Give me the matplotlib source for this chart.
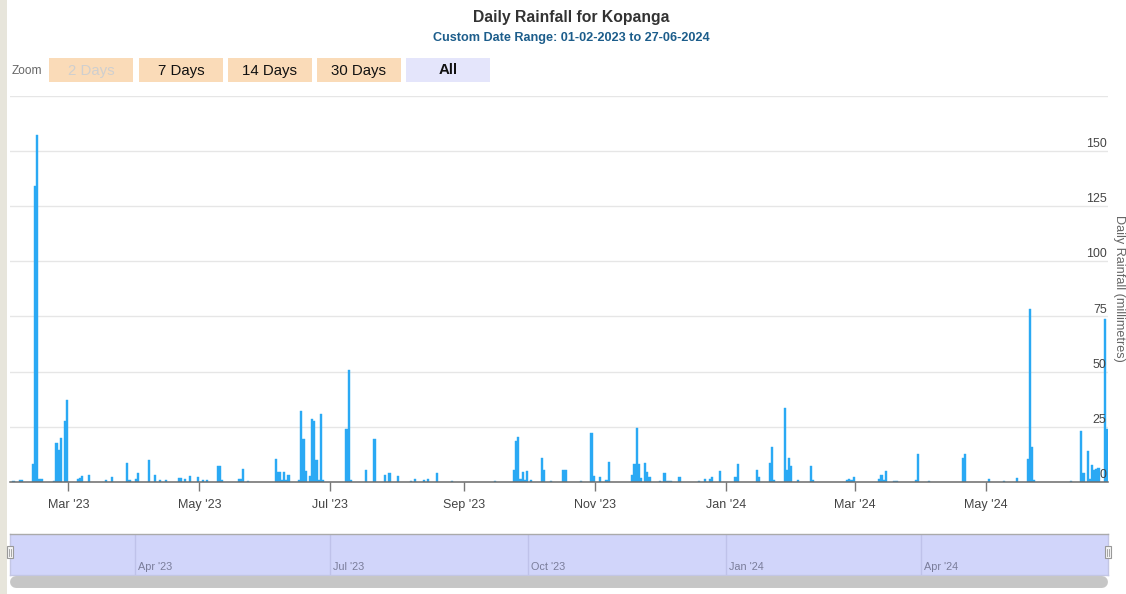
import matplotlib
matplotlib.use("Agg")
import matplotlib.pyplot as plt
import matplotlib.dates as mdates
from matplotlib.patches import Rectangle
from matplotlib.lines import Line2D
import pandas as pd

plt.rcParams['font.family'] = ['Liberation Sans', 'DejaVu Sans']

# daily rainfall (mm), only days with rain
rain_dates = [
    "2023-02-03", "2023-02-06", "2023-02-07", "2023-02-12", "2023-02-13", "2023-02-14",
    "2023-02-15", "2023-02-16", "2023-02-22", "2023-02-23", "2023-02-24", "2023-02-25",
    "2023-02-27", "2023-02-28", "2023-03-05", "2023-03-06", "2023-03-07", "2023-03-10",
    "2023-03-18", "2023-03-21", "2023-03-28", "2023-03-29", "2023-04-01", "2023-04-02",
    "2023-04-07", "2023-04-10", "2023-04-12", "2023-04-15", "2023-04-21", "2023-04-22",
    "2023-04-24", "2023-04-26", "2023-04-30", "2023-05-02", "2023-05-04", "2023-05-09",
    "2023-05-10", "2023-05-11", "2023-05-19", "2023-05-20", "2023-05-21", "2023-05-23",
    "2023-06-05", "2023-06-06", "2023-06-07", "2023-06-08", "2023-06-09", "2023-06-10",
    "2023-06-11", "2023-06-16", "2023-06-17", "2023-06-18", "2023-06-19", "2023-06-21",
    "2023-06-22", "2023-06-23", "2023-06-24", "2023-06-25", "2023-06-26", "2023-06-27",
    "2023-07-08", "2023-07-09", "2023-07-10", "2023-07-17", "2023-07-21", "2023-07-26",
    "2023-07-28", "2023-08-01", "2023-08-07", "2023-08-09", "2023-08-13", "2023-08-15",
    "2023-08-19", "2023-08-26", "2023-09-15", "2023-09-24", "2023-09-25", "2023-09-26",
    "2023-09-27", "2023-09-28", "2023-09-29", "2023-09-30", "2023-10-02", "2023-10-07",
    "2023-10-08", "2023-10-11", "2023-10-17", "2023-10-18", "2023-10-25", "2023-10-30",
    "2023-10-31", "2023-11-03", "2023-11-06", "2023-11-07", "2023-11-18", "2023-11-19",
    "2023-11-20", "2023-11-21", "2023-11-22", "2023-11-24", "2023-11-25", "2023-11-26",
    "2023-12-01", "2023-12-03", "2023-12-04", "2023-12-05", "2023-12-06", "2023-12-10",
    "2023-12-19", "2023-12-22", "2023-12-24", "2023-12-25", "2023-12-29", "2024-01-05",
    "2024-01-06", "2024-01-15", "2024-01-16", "2024-01-21", "2024-01-22", "2024-01-23",
    "2024-01-28", "2024-01-29", "2024-01-30", "2024-01-31", "2024-02-03", "2024-02-09",
    "2024-02-10", "2024-02-26", "2024-02-27", "2024-02-28", "2024-02-29", "2024-03-12",
    "2024-03-13", "2024-03-14", "2024-03-15", "2024-03-19", "2024-03-20", "2024-03-29",
    "2024-03-30", "2024-04-04", "2024-04-20", "2024-04-21", "2024-05-02", "2024-05-09",
    "2024-05-15", "2024-05-20", "2024-05-21", "2024-05-22", "2024-05-23", "2024-06-09",
    "2024-06-14", "2024-06-15", "2024-06-17", "2024-06-18", "2024-06-19", "2024-06-20",
    "2024-06-21", "2024-06-22", "2024-06-25", "2024-06-26",
]
rain_mm = [
    0.5, 0.8, 0.8, 8.3, 134, 157,
    1.2, 1.5, 0.5, 17.8, 14.3, 20,
    27.4, 37.3, 1.5, 1.6, 2.7, 3.3,
    1.0, 2.4, 8.4, 1.0, 1.5, 3.9,
    9.8, 3.3, 1.0, 1.0, 1.7, 1.7,
    1.2, 2.9, 2.4, 1.0, 1.0, 7.2,
    7.2, 1.0, 1.5, 1.5, 5.7, 0.5,
    10.5, 4.6, 4.4, 0.8, 4.5, 1.0,
    3.3, 1.0, 32.2, 19.6, 4.8, 2.9,
    28.3, 27.6, 9.8, 1.0, 31, 1.0,
    24, 50.8, 1.0, 5.3, 19.6, 3.3,
    3.9, 2.9, 0.5, 1.5, 1.0, 1.5,
    3.9, 0.5, 0.5, 5.6, 18.4, 20.6,
    1.5, 4.5, 1.0, 4.8, 1.0, 10.7,
    5.3, 0.5, 5.6, 5.6, 0.5, 22.3,
    2.7, 2.4, 1.0, 9.2, 3.0, 8.3,
    24.5, 8.3, 1.7, 8.4, 4.5, 2.4,
    0.5, 3.9, 0.5, 0.4, 0.5, 2.4,
    0.5, 1.2, 1.2, 2.4, 5.1, 2.1,
    8.0, 5.6, 2.4, 8.4, 16, 1.0,
    33.4, 5.3, 11, 7.4, 1.0, 7.4,
    1.0, 1.0, 1.5, 1.0, 2.4, 1.5,
    3.3, 1.0, 4.8, 0.5, 0.5, 1.0,
    12.5, 0.5, 11, 12.5, 1.5, 0.5,
    1.7, 10.2, 78.2, 15.8, 1.0, 0.5,
    22.9, 3.9, 14, 1.5, 7.8, 5.3,
    6.0, 6.5, 74, 23.8,
]

y_ticks = [0, 25, 50, 75, 100, 125, 150, 175]
y_labels = ["0", "25", "50", "75", "100", "125", "150"]
zoom_buttons = ["2 Days", "7 Days", "14 Days", "30 Days", "All"]

W, H = 1126, 594


def fx(x):
    return x / W


def fy(y):
    return 1 - y / H


fig = plt.figure(figsize=(W / 100, H / 100), dpi=100)
fig.patch.set_facecolor("white")
fig.add_artist(Rectangle((0, 0), fx(6.5), 1, transform=fig.transFigure,
                         facecolor="#e7e5db", edgecolor="none"))

x_start = mdates.date2num(pd.Timestamp("2023-02-01")) + 0.87
x_end = mdates.date2num(pd.Timestamp("2024-06-26")) + 0.9

# main chart
ax = fig.add_axes([fx(10), fy(482), fx(1098), (482 - 95.5) / H])
xs = mdates.date2num(pd.to_datetime(rain_dates))
ax.bar(xs, rain_mm, width=1.0, align="edge", color="#2aa9f4",
       edgecolor="#2aa9f4", linewidth=0.3, zorder=3)
ax.set_xlim(x_start, x_end)
ax.set_ylim(0, 175)
ax.set_yticks(y_ticks)
ax.grid(axis="y", color="#e6e6e6", linewidth=1, zorder=0)
ax.tick_params(axis="y", length=0, labelleft=False, labelright=False)
for s in ["top", "left", "right"]:
    ax.spines[s].set_visible(False)
ax.spines["bottom"].set_color("#6b6b6b")
ax.spines["bottom"].set_linewidth(1.1)
ax.spines["bottom"].set_zorder(4)
ax.xaxis.set_major_locator(mdates.MonthLocator(bymonth=[1, 3, 5, 7, 9, 11]))
ax.xaxis.set_major_formatter(mdates.DateFormatter("%b '%y"))
ax.tick_params(axis="x", direction="out", length=6.7, width=1, color="#777777",
               labelsize=9, labelcolor="#444444", pad=5.5)
for v, lab in zip(y_ticks, y_labels):
    ax.annotate(lab, xy=(1.0, v), xycoords=("axes fraction", "data"),
                xytext=(-1, 4.8), textcoords="offset points",
                ha="right", va="center", fontsize=8.9, color="#444444", zorder=5)

fig.text(fx(1119), fy(288), "Daily Rainfall (millimetres)", rotation=270,
         ha="center", va="center", fontsize=9.1, color="#666666")

# titles
fig.text(fx(571), fy(17.5), "Daily Rainfall for Kopanga", ha="center", va="center",
         fontsize=11.3, fontweight="bold", color="#333333")
fig.text(fx(571), fy(37.5), "Custom Date Range: 01-02-2023 to 27-06-2024",
         ha="center", va="center", fontsize=9.1, fontweight="bold", color="#1c5d8b")

# range selector buttons
fig.text(fx(11.5), fy(70.5), "Zoom", ha="left", va="center", fontsize=8.6, color="#666666")
btn_left = [49.3, 139, 227.7, 316.7, 406]
for lab, bx in zip(zoom_buttons, btn_left):
    fill = "#e4e5fb" if lab == "All" else "#fadbb8"
    fig.add_artist(Rectangle((fx(bx), fy(81.5)), fx(84), 23.5 / H,
                             transform=fig.transFigure, facecolor=fill, edgecolor="none"))
    tc = "#cfcfcf" if lab == "2 Days" else "#111111"
    fw = "bold" if lab == "All" else "normal"
    fig.text(fx(bx + 42), fy(70.5), lab, ha="center", va="center",
             fontsize=10.8, color=tc, fontweight=fw)

# navigator
nav = fig.add_axes([fx(10), fy(574.5), fx(1098), 40.5 / H])
nav.set_facecolor("#d1d5fa")
nav.set_xlim(x_start, x_end)
nav.set_ylim(0, 1)
nav.set_xticks([])
nav.set_yticks([])
for s in nav.spines.values():
    s.set_color("#c3c6e4")
    s.set_linewidth(1)
nav.spines["top"].set_color("#aaaaaa")
for d in pd.date_range("2023-04-01", "2024-04-01", freq="3MS"):
    dn = mdates.date2num(d)
    nav.axvline(dn, color="#bfc2ea", linewidth=1)
    nav.annotate(d.strftime("%b '%y"), xy=(dn, 0), xycoords=("data", "axes fraction"),
                 xytext=(2.2, 5.6), textcoords="offset points", ha="left", va="center",
                 fontsize=7.8, color="#7a7d9a")

for hx in [7.3, 1105.3]:
    fig.add_artist(Rectangle((fx(hx), fy(558)), fx(5.4), 12 / H, transform=fig.transFigure,
                             facecolor="#f4f4f4", edgecolor="#999999", linewidth=0.8))
    for lx in [hx + 2.0, hx + 3.4]:
        fig.add_artist(Line2D([fx(lx), fx(lx)], [fy(555.5), fy(548.5)],
                              transform=fig.transFigure, color="#999999", linewidth=0.6))

# scrollbar
fig.add_artist(Line2D([fx(16), fx(1102)], [fy(582), fy(582)], transform=fig.transFigure,
                      color="#c6c6c6", linewidth=8.6, solid_capstyle="round"))

fig.savefig("out.png", dpi=100)
